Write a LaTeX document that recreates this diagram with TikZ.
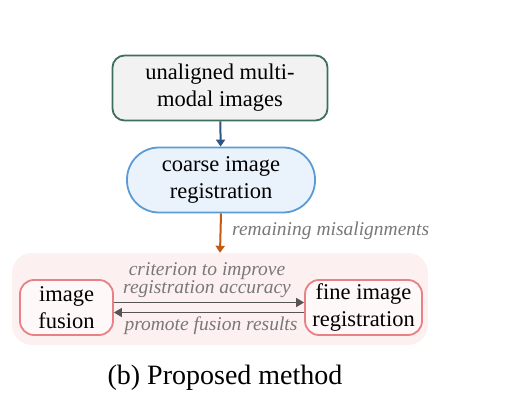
\documentclass[tikz,border=0pt]{standalone}
\usepackage{fontspec}
\setmainfont{Liberation Serif}
\usetikzlibrary{arrows.meta, positioning, calc}
\definecolor{inputgreen}{RGB}{62, 110, 92}
\definecolor{inputgray}{RGB}{242, 242, 242}
\definecolor{coarseblue}{RGB}{91, 155, 213}
\definecolor{coarsefill}{RGB}{234, 243, 251}
\definecolor{arrowblue}{RGB}{46, 84, 130}
\definecolor{misorange}{RGB}{197, 90, 17}
\definecolor{looppink}{RGB}{253, 240, 240}
\definecolor{boxpink}{RGB}{232, 128, 134}
\definecolor{boxfill}{RGB}{255, 248, 248}
\definecolor{linkgray}{RGB}{85, 85, 85}
\definecolor{labelgray}{RGB}{120, 120, 120}
\tikzset{
  stagebox/.style={align=center, inner sep=2pt, line width=1.8pt, font=\fontsize{22.5}{27}\selectfont},
  loopbox/.style={stagebox, draw=boxpink, fill=boxfill, rounded corners=14pt, minimum height=55pt},
  linklabel/.style={font=\fontsize{19.5}{17}\selectfont\itshape, text=labelgray, align=center, inner sep=1pt},
  flowarrow/.style={-{Triangle[length=7pt, width=9pt]}, line width=2pt},
  linkarrow/.style={-{Triangle[length=8pt, width=9pt]}, line width=1.6pt, linkgray}
}
\begin{document}
\begin{tikzpicture}[x=1pt, y=-1pt]
  \useasboundingbox (0,0) rectangle (527,419);

  % Refinement loop background
  \node[fill=looppink, rounded corners=20pt, minimum width=416pt, minimum height=92pt] (loop) at (220,299) {};

  % Input
  \node[stagebox, draw=inputgreen, fill=inputgray, rounded corners=12pt, minimum width=215pt, minimum height=65pt] (input) at (220,88) {unaligned multi-\\modal images};

  % Coarse registration
  \node[stagebox, draw=coarseblue, fill=coarsefill, rounded corners=32pt, minimum width=188pt, minimum height=65pt] (coarse) at (221,180) {coarse image\\registration};
  \draw[flowarrow, arrowblue] (input) -- (coarse);

  % Remaining misalignments
  \draw[flowarrow, misorange] (coarse.south) -- (loop.north);
  \node[linklabel, anchor=west] (mislabel) at (231,231) {remaining misalignments};

  % Fusion and fine registration
  \node[loopbox, minimum width=93pt] (fusion) at (66.5,307.5) {image\\fusion};
  \node[loopbox, minimum width=117pt] (fine) at (363.5,307.5) {fine image\\registration};
  \draw[linkarrow] ([yshift=5pt]fusion.east) -- ([yshift=5pt]fine.west);
  \draw[linkarrow] ([yshift=-5pt]fine.west) -- ([yshift=-5pt]fusion.east);
  \node[linklabel] (critlabel) at (207,280) {criterion to improve\\registration accuracy};
  \node[linklabel] (promlabel) at (211,326) {promote fusion results};

  % Caption
  \node[font=\fontsize{28}{32}\selectfont] (caption) at (225,378) {(b) Proposed method};
\end{tikzpicture}
\end{document}
